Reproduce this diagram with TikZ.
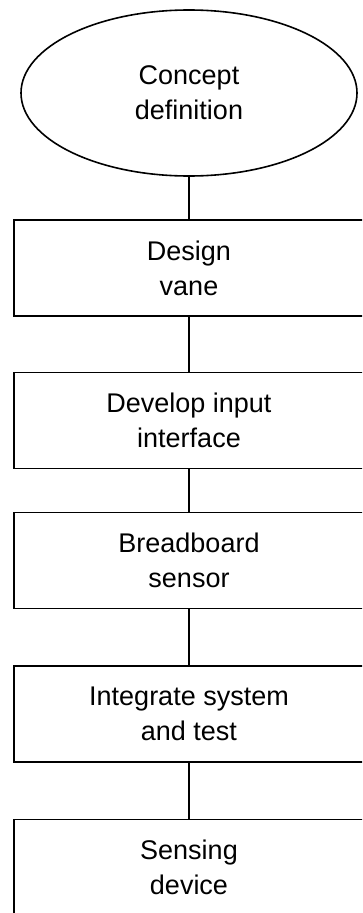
\documentclass[tikz,border=0pt]{standalone}
\usepackage{fontspec}
\setmainfont{Liberation Sans}
\usetikzlibrary{shapes.geometric}

\tikzset{stepbox/.style={draw, line width=1.6pt, minimum width=350pt, minimum height=96pt, align=center, font=\fontsize{27}{35}\selectfont},
         startoval/.style={draw, ellipse, line width=1.6pt, inner sep=0pt, minimum width=336pt, minimum height=166pt, align=center, font=\fontsize{27}{35}\selectfont}}

\begin{document}
\begin{tikzpicture}[x=1pt, y=-1pt]
  \useasboundingbox (0,0) rectangle (362,913);
  \clip (0,0) rectangle (362,913);
  \node[startoval] (concept) at (189,93)    {Concept\\definition};
  \node[stepbox]   (vane)    at (189,268)   {Design\\vane};
  \node[stepbox]   (input)   at (189,420.5) {Develop input\\interface};
  \node[stepbox]   (bread)   at (189,560.5) {Breadboard\\sensor};
  \node[stepbox]   (integ)   at (189,714)   {Integrate system\\and test};
  \node[stepbox]   (device)  at (189,867.5) {Sensing\\device};
  \draw[line width=1.6pt] (concept) -- (vane) -- (input) -- (bread) -- (integ) -- (device);
\end{tikzpicture}
\end{document}
